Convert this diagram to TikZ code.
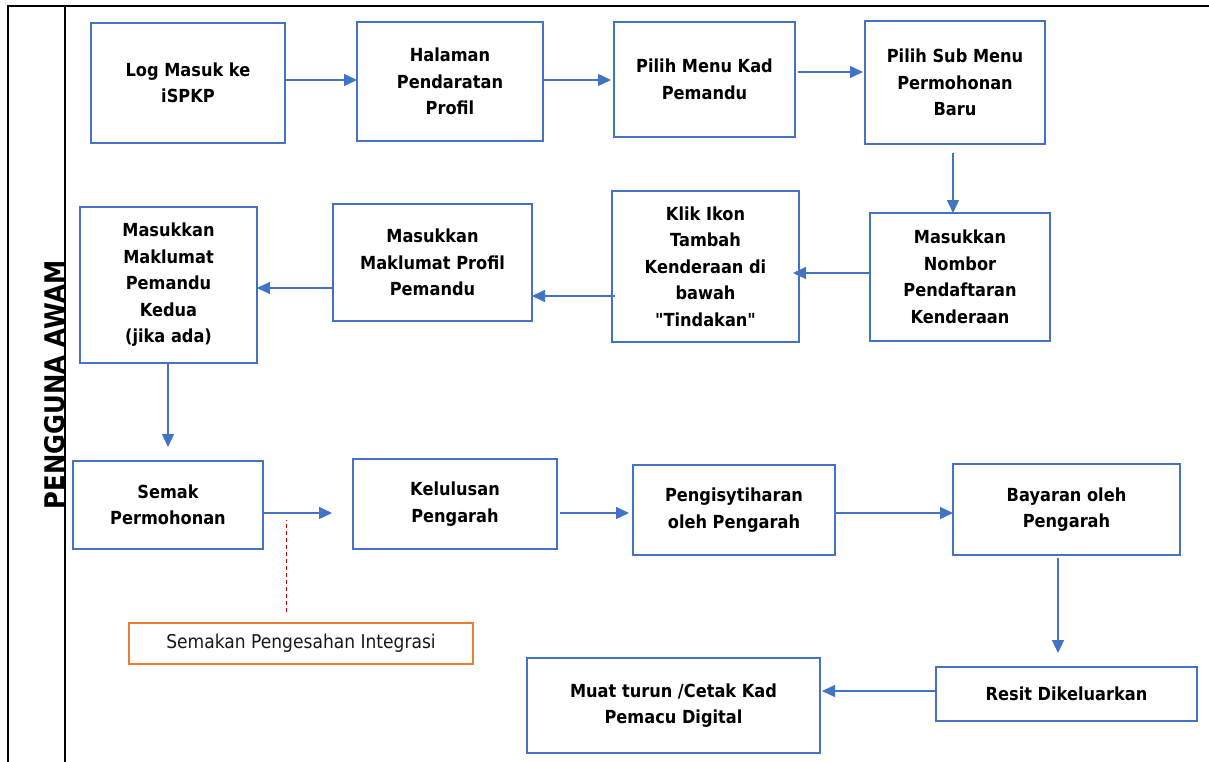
\documentclass[tikz,border=0pt]{standalone}
\usepackage{fontspec}
\setmainfont{DejaVu Sans}[FakeStretch=0.9, Ligatures=TeXOff]
\usetikzlibrary{arrows.meta}
\definecolor{boxblue}{HTML}{4472C4}
\definecolor{orangeb}{HTML}{ED7D31}
\definecolor{dred}{HTML}{C00000}
\tikzset{
  stepbox/.style={draw=boxblue, line width=1.3pt, inner sep=0pt, outer sep=0pt, align=center,
    font=\fontsize{18}{26.5}\selectfont\bfseries, text=black},
  flow/.style={draw=boxblue, line width=1.3pt, -{Triangle[length=13pt,width=12pt]}},
  frameline/.style={draw=black, line width=2.2pt},
  notebox/.style={draw=orangeb, line width=1.2pt, inner sep=0pt, outer sep=0pt,
    font=\fontsize{19}{24}\selectfont, text=black!90},
  linkdash/.style={draw=dred, line width=1pt, dash pattern=on 4pt off 3pt}
}
\begin{document}
\begin{tikzpicture}[x=1pt,y=-1pt]
\useasboundingbox (0,0) rectangle (1209,762);
\fill[white] (0,0) rectangle (1209,762);
% frame
\coordinate (ftl) at (7,6);
\coordinate (ftr) at (1209,6);
\coordinate (fbl) at (8,762);
\coordinate (sv) at (65,6);
\coordinate (svb) at (65,762);
\draw[frameline] (ftr) -- (ftl -| fbl) -- (fbl);
\draw[frameline] (sv) -- (svb);
\node[rotate=90, anchor=base, font=\fontsize{27}{30}\selectfont\bfseries, inner sep=0pt] (lbl) at (64,385) {PENGGUNA AWAM};

% boxes
\node[stepbox, minimum width=194pt, minimum height=120pt] (b1) at (188,83) {Log Masuk ke\\iSPKP};
\node[stepbox, minimum width=186pt, minimum height=119pt] (b2) at (450,81.5) {Halaman\\Pendaratan\\Profil};
\node[stepbox, minimum width=181pt, minimum height=115pt] (b3) at (704.5,79.5) {Pilih Menu Kad\\Pemandu};
\node[stepbox, minimum width=180pt, minimum height=123pt] (b4) at (955,82.5) {Pilih Sub Menu\\Permohonan\\Baru};
\node[stepbox, minimum width=180pt, minimum height=128pt] (b5) at (960,277) {Masukkan\\Nombor\\Pendaftaran\\Kenderaan};
\node[stepbox, minimum width=187pt, minimum height=151pt] (b6) at (705.5,266.5) {Klik Ikon\\Tambah\\Kenderaan di\\bawah\\"Tindakan"};
\node[stepbox, minimum width=199pt, minimum height=117pt] (b7) at (432.5,262.5) {Masukkan\\Maklumat Profil\\Pemandu};
\node[stepbox, minimum width=177pt, minimum height=156pt] (b8) at (168.5,285) {Masukkan\\Maklumat\\Pemandu\\Kedua\\(jika ada)};
\node[stepbox, minimum width=190pt, minimum height=88pt] (b9) at (168,505) {Semak\\Permohonan};
\node[stepbox, minimum width=204pt, minimum height=90pt] (b10) at (455,504) {Kelulusan\\Pengarah};
\node[stepbox, minimum width=202pt, minimum height=90pt] (b11) at (734,510) {Pengisytiharan\\oleh Pengarah};
\node[stepbox, minimum width=227pt, minimum height=91pt] (b12) at (1066.5,509.5) {Bayaran oleh\\Pengarah};
\node[stepbox, minimum width=261pt, minimum height=54pt] (b13) at (1066.5,694) {Resit Dikeluarkan};
\node[stepbox, minimum width=293pt, minimum height=95pt] (b14) at (673.5,705.5) {Muat turun /Cetak Kad\\Pemacu Digital};
\node[notebox, minimum width=344pt, minimum height=41pt] (note) at (301,643.5) {Semakan Pengesahan Integrasi};

% arrows
\draw[flow] (b1.east |- 0,80) -- (b2.west |- 0,80);
\draw[flow, shorten >=3pt] (b2.east |- 0,80) -- (b3.west |- 0,80);
\draw[flow, shorten <=3pt, shorten >=2pt] (b3.east |- 0,72) -- (b4.west |- 0,72);
\draw[flow, shorten <=9pt] (b4.south -| 953,0) -- (b5.north -| 953,0);
\draw[flow, shorten >=-6pt] (b5.west |- 0,273) -- (b6.east |- 0,273);
\draw[flow, shorten <=-3pt] (b6.west |- 0,296) -- (b7.east |- 0,296);
\draw[flow] (b7.west |- 0,288) -- (b8.east |- 0,288);
\draw[flow, shorten >=14pt] (b8.south -| 168,0) -- (b9.north -| 168,0);
\draw[flow, shorten >=21pt] (b9.east |- 0,513) -- (b10.west |- 0,513);
\draw[flow, shorten <=3pt, shorten >=4pt] (b10.east |- 0,513) -- (b11.west |- 0,513);
\draw[flow] (b11.east |- 0,513) -- (b12.west |- 0,513);
\draw[flow, shorten <=3pt, shorten >=14pt] (b12.south -| 1058,0) -- (b13.north -| 1058,0);
\draw[flow, shorten >=2pt] (b13.west |- 0,691) -- (b14.east |- 0,691);
% dashed link
\coordinate (dtop) at (286,520);
\draw[linkdash, shorten <=11pt] (note.north -| dtop) -- (dtop);
\end{tikzpicture}
\end{document}
